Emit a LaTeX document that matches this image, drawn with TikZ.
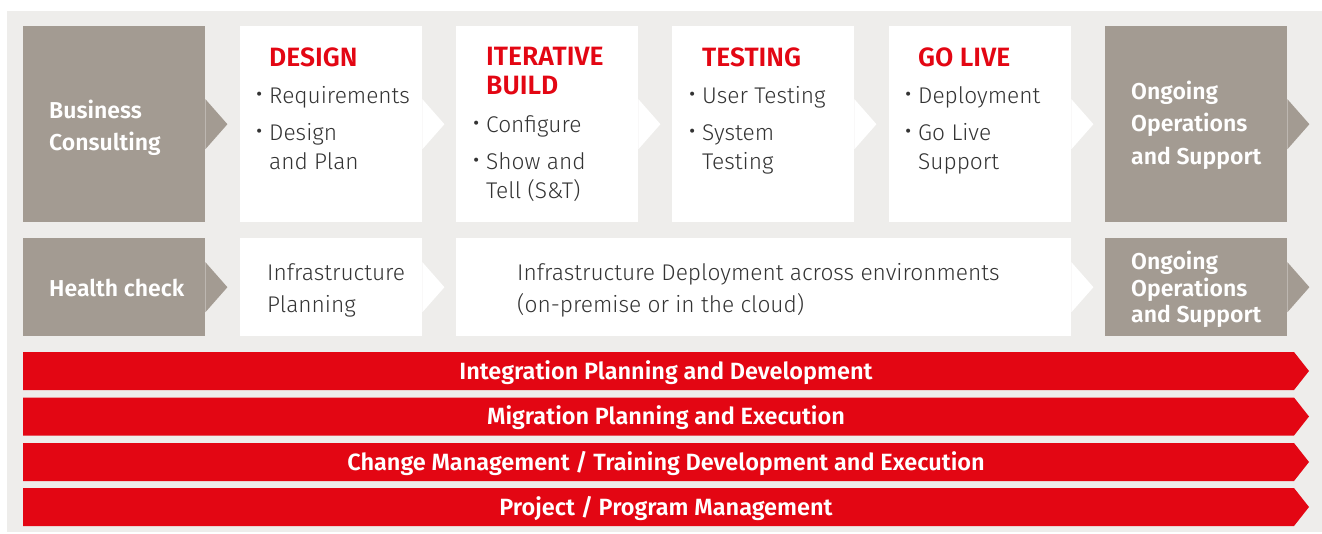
\documentclass[tikz,border=0pt]{standalone}
\usepackage{fontspec}
\setmainfont{Fira Sans}
\newfontfamily\lightfont{Fira Sans Light}
\newfontfamily\semifont{Fira Sans SemiBold}

\definecolor{pagegray}{HTML}{EEEDEB}
\definecolor{stone}{HTML}{A39B92}
\definecolor{brandred}{HTML}{E30613}
\definecolor{ink}{HTML}{333333}

\tikzset{
  phase box/.style={anchor=north west, inner sep=0pt, minimum width=182pt, minimum height=196pt},
  infra box/.style={anchor=north west, inner sep=0pt, minimum width=182pt, minimum height=98pt},
  body line/.style={anchor=base west, inner sep=0pt, text=ink, font=\lightfont\fontsize{22.7}{22.7}\selectfont},
  stone label/.style={anchor=base west, inner sep=0pt, text=white, font=\semifont\fontsize{23}{23}\selectfont},
  phase title/.style={anchor=base west, inner sep=0pt, text=brandred, font=\semifont\fontsize{26.5}{26.5}\selectfont},
  stream label/.style={anchor=base, inner sep=0pt, text=white, font=\semifont\fontsize{23.5}{23.5}\selectfont}
}

\begin{document}
\begin{tikzpicture}[x=1pt,y=-1pt]
    \useasboundingbox (0,0) rectangle (1322,533);
    \fill[pagegray] (7,11) rectangle (1322,532);

    % phases
    \node[phase box, fill=stone] (bc) at (23,26) {};
    \node[phase box, fill=white] (ds) at (240,26) {};
    \node[phase box, fill=white] (ib) at (456,26) {};
    \node[phase box, fill=white] (ts) at (672,26) {};
    \node[phase box, fill=white] (gl) at (889,26) {};
    \node[phase box, fill=stone] (oo) at (1105,26) {};

    % infrastructure row
    \node[infra box, fill=stone] (hc) at (23,238) {};
    \node[infra box, fill=white] (ip) at (240,238) {};
    \node[infra box, fill=white, minimum width=615pt] (id) at (456,238) {};
    \node[infra box, fill=stone] (os) at (1105,238) {};

    \foreach \b/\c in {bc/stone, ds/white, ib/white, ts/white, gl/white, oo/stone, hc/stone, ip/white, id/white, os/stone}
        \fill[\c] ([yshift=25pt]\b.east) -- ([xshift=22pt]\b.east) -- ([yshift=-25pt]\b.east) -- cycle;

    \foreach \x/\y/\t [count=\i] in {49/118/Business, 49/150/Consulting, 1131/99/Ongoing, 1131/131/Operations, 1131/164/{and Support}, 49/296/{Health check}, 1131/269/Ongoing, 1131/296/Operations, 1131/322/{and Support}}
        \node[stone label] (g\i) at (\x,\y) {\t};

    \foreach \x/\y/\t [count=\i] in {269/66/DESIGN, 486/65/ITERATIVE, 486/94/BUILD, 702/66/TESTING, 918/66/{GO LIVE}}
        \node[phase title] (h\i) at (\x,\y) {\t};

    \foreach \x/\y/\t [count=\i] in {269/103/Requirements, 269/140/Design, 486/132/Configure, 486/169/{Show and}, 702/103/{User Testing}, 702/140/System, 918/103/Deployment, 918/140/{Go Live}}
        \node[body line] (b\i) at (\x,\y) {\llap{{\fontsize{27}{27}\selectfont\textbullet}\hspace{6pt}}\t};

    \foreach \x/\y/\t [count=\i] in {269/169/{and Plan}, 486/198/{Tell (S\&T)}, 702/169/Testing, 918/169/Support, 267/280/Infrastructure, 267/312/Planning, 517/280/{Infrastructure Deployment across environments}, 517/312/{(on-premise or in the cloud)}}
        \node[body line] (c\i) at (\x,\y) {\t};

    % work streams
    \foreach \y/\t [count=\i] in {352/{Integration Planning and Development}, 397.5/{Migration Planning and Execution}, 443/{Change Management / Training Development and Execution}, 488/{Project / Program Management}}{
        \fill[brandred] (23,\y) -- (1294,\y) -- (1309,\y+19) -- (1294,\y+38) -- (23,\y+38) -- cycle;
        \node[stream label] (s\i) at (666,\y+27) {\t};
    }
\end{tikzpicture}
\end{document}
